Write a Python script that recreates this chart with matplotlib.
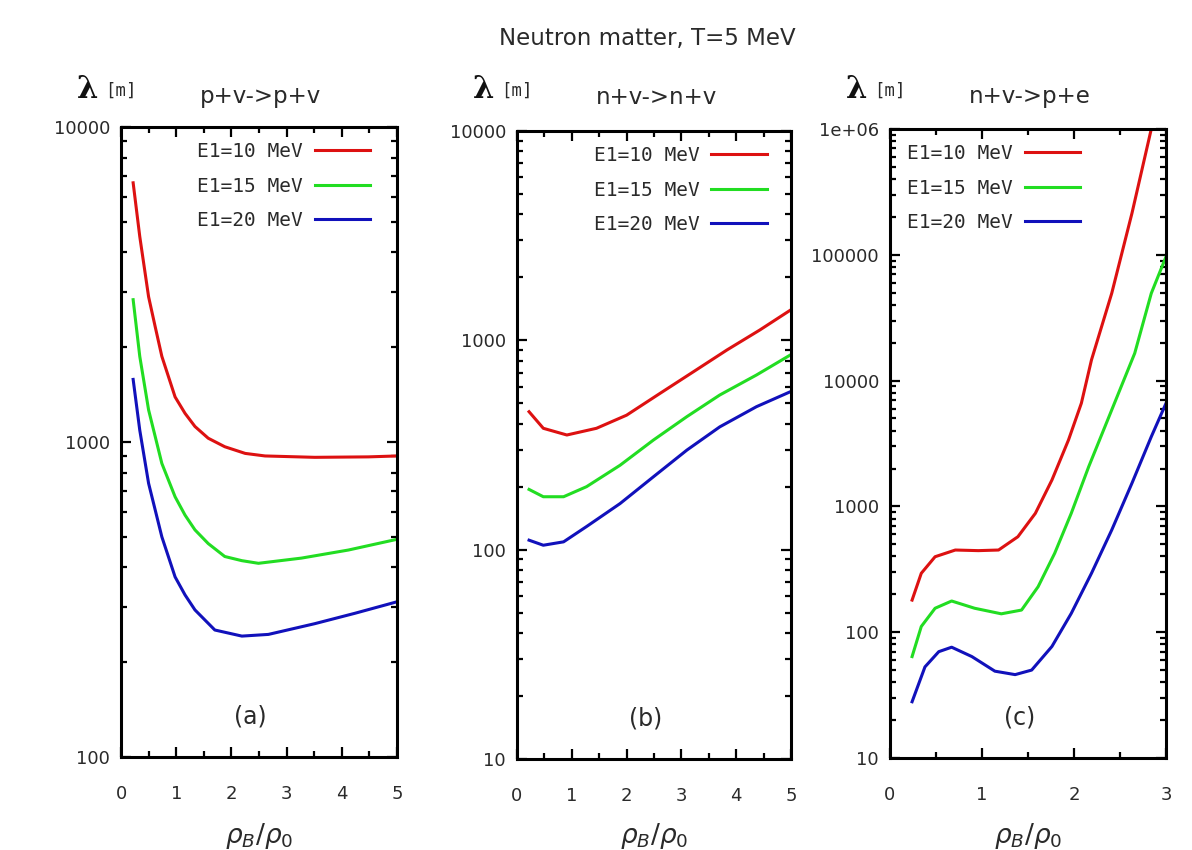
import matplotlib.pyplot as plt
from matplotlib.ticker import MultipleLocator, FuncFormatter, LogLocator, NullFormatter

W, H = 1192, 850

labels = ["E1=10 MeV", "E1=15 MeV", "E1=20 MeV"]
colors = ["#dd1111", "#22dd22", "#1111bb"]

# (a) p+v->p+v
a_x = [
    [0.22, 0.34, 0.5, 0.62, 0.74, 0.98, 1.16, 1.34, 1.58, 1.88, 2.25, 2.61, 3.51, 4.48, 5.0],
    [0.22, 0.34, 0.5, 0.62, 0.74, 0.98, 1.16, 1.34, 1.58, 1.88, 2.19, 2.49, 3.27, 4.12, 5.0],
    [0.22, 0.34, 0.5, 0.62, 0.74, 0.98, 1.16, 1.34, 1.70, 2.19, 2.67, 3.51, 4.24, 5.0],
]
a_y = [
    [6650, 4490, 2890, 2320, 1870, 1390, 1233, 1120, 1028, 966, 920, 903, 894, 897, 903],
    [2830, 1870, 1264, 1040, 855, 670, 586, 526, 476, 433, 420, 412, 428, 454, 491],
    [1580, 1090, 739, 608, 500, 373, 327, 293, 253, 242, 245, 265, 286, 311],
]

# (b) n+v->n+v
b_x = [
    [0.22, 0.48, 0.91, 1.45, 2.0, 2.61, 3.22, 3.83, 4.43, 5.0],
    [0.22, 0.48, 0.85, 1.27, 1.88, 2.49, 3.10, 3.70, 4.37, 5.0],
    [0.22, 0.48, 0.85, 1.27, 1.88, 2.49, 3.10, 3.70, 4.37, 5.0],
]
b_y = [
    [456, 380, 353, 380, 439, 558, 708, 899, 1120, 1400],
    [194, 179, 179, 200, 253, 334, 432, 548, 683, 855],
    [111, 105, 109, 129, 166, 223, 299, 386, 482, 570],
]

# (c) n+v->p+e
c_x = [
    [0.24, 0.34, 0.49, 0.71, 0.96, 1.18, 1.39, 1.58, 1.76, 1.94, 2.08, 2.19, 2.41, 2.63, 2.84, 2.9],
    [0.24, 0.34, 0.49, 0.67, 0.92, 1.21, 1.43, 1.61, 1.79, 1.97, 2.16, 2.34, 2.45, 2.66, 2.84, 3.0],
    [0.24, 0.38, 0.53, 0.67, 0.89, 1.14, 1.36, 1.54, 1.76, 1.97, 2.19, 2.41, 2.63, 2.84, 3.0],
]
c_y = [
    [180, 294, 398, 450, 445, 450, 574, 881, 1620, 3370, 6610, 14600, 49400, 214000, 1000000, 1580000],
    [64, 111, 155, 177, 155, 140, 150, 230, 424, 881, 2070, 4370, 6900, 16500, 49400, 96600],
    [28, 53, 70, 76, 64, 49, 46, 50, 77, 141, 294, 649, 1530, 3580, 6600],
]

titles = ["p+v->p+v", "n+v->n+v", "n+v->p+e"]
tags = ["(a)", "(b)", "(c)"]
xlims = [(0, 5), (0, 5), (0, 3)]
ylims = [(100, 10000), (10, 10000), (10, 1e6)]
leg_loc = ["upper right", "upper right", "upper left"]
leg_anchor = [(0.902, 0.976), (0.912, 0.976), (0.062, 0.976)]

# axes boxes in pixels: left, top, right, bottom
boxes = [(121, 127, 397, 757), (517, 131, 791, 759), (890, 129, 1166, 758)]
txtc = "#2a2a2a"


def fx(x):
    return x / W


def fy(y):
    return 1 - y / H


def yfmt(v, pos):
    if v >= 1e6:
        return "1e+06"
    return "%d" % v


fig = plt.figure(figsize=(W / 100, H / 100), dpi=100)
fig.text(fx(647), fy(38), "Neutron matter, T=5 MeV", ha="center", va="center", fontsize=16.5, color=txtc)

for i, (xs, ys) in enumerate([(a_x, a_y), (b_x, b_y), (c_x, c_y)]):
    l, t, r, b = boxes[i]
    ax = fig.add_axes([fx(l), fy(b), (r - l) / W, (b - t) / H])
    for k in range(3):
        ax.plot(xs[k], ys[k], color=colors[k], lw=2.2, label=labels[k])
    ax.set_yscale("log")
    ax.set_xlim(*xlims[i])
    ax.set_ylim(*ylims[i])
    ax.xaxis.set_major_locator(MultipleLocator(1))
    ax.xaxis.set_minor_locator(MultipleLocator(0.5))
    ax.yaxis.set_major_locator(LogLocator(base=10, numticks=20))
    ax.yaxis.set_major_formatter(FuncFormatter(yfmt))
    ax.yaxis.set_minor_formatter(NullFormatter())
    ax.tick_params(which="both", direction="in", top=True, right=True, width=1.6, color="black")
    ax.tick_params(which="major", length=7)
    ax.tick_params(which="minor", length=4)
    ax.tick_params(axis="x", pad=20, labelsize=13, labelcolor=txtc)
    ax.tick_params(axis="y", pad=8, labelsize=13, labelcolor=txtc)
    for s in ax.spines.values():
        s.set_linewidth(2.2)
    leg = ax.legend(loc=leg_loc[i], bbox_to_anchor=leg_anchor[i], frameon=False, markerfirst=False,
                    handlelength=2.85, handletextpad=0.6, labelspacing=0.8,
                    borderaxespad=0, borderpad=0,
                    prop={"family": "DejaVu Sans Mono", "size": 14})
    for txt in leg.get_texts():
        txt.set_color(txtc)
    ax.text(0.47, 0.065, tags[i], transform=ax.transAxes, ha="center", va="center",
            fontsize=17, color=txtc)
    cx = (l + r) / 2
    fig.text(fx(cx + 2), fy(97), titles[i], ha="center", va="center", fontsize=16.5, color=txtc)
    # y label lambda [m]
    fig.text(fx(l - 33), fy(89), "λ", ha="center", va="center", fontsize=22, weight="bold",
             family="DejaVu Serif", color="#111111")
    fig.text(fx(l - 16), fy(91), "[m]", ha="left", va="center", fontsize=12.5,
             family="DejaVu Sans Mono", color=txtc)
    fig.text(fx(cx), fy(836), r"$\rho_B/\rho_0$", ha="center", va="center", fontsize=19, color=txtc)

fig.savefig("out.png", dpi=100)
